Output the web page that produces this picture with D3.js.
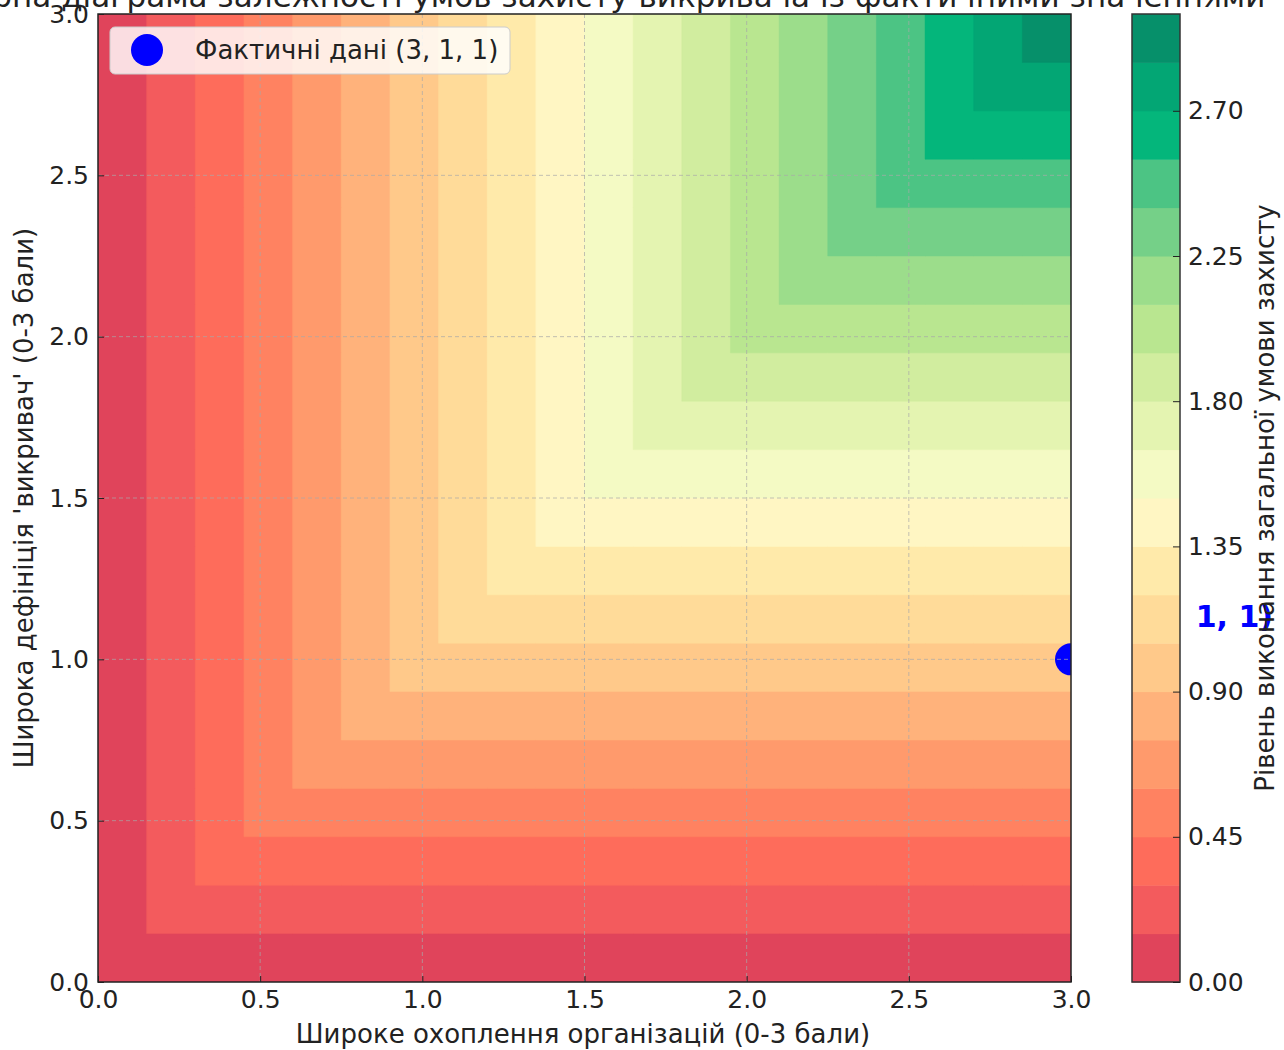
<!DOCTYPE html>
<html><head><meta charset="utf-8">
<script src="https://cdn.jsdelivr.net/npm/d3@7"></script>
<style>
body{margin:0;background:#fff}
text{font-family:"DejaVu Sans",sans-serif}
</style></head>
<body><svg id="chart" width="1284" height="1050"></svg>
<script>
// ---- data ----
const gridValues = [0, 0.15, 0.3, 0.45, 0.6, 0.75, 0.9, 1.05, 1.2, 1.35, 1.5, 1.65, 1.8, 1.95, 2.1, 2.25, 2.4, 2.55, 2.7, 2.85, 3.0];
const levels     = [0, 0.15, 0.3, 0.45, 0.6, 0.75, 0.9, 1.05, 1.2, 1.35, 1.5, 1.65, 1.8, 1.95, 2.1, 2.25, 2.4, 2.55, 2.7, 2.85, 3.0];
const axisTicks  = [0, 0.5, 1.0, 1.5, 2.0, 2.5, 3.0];
const cbarTicks  = [0, 0.45, 0.9, 1.35, 1.8, 2.25, 2.7];
const actualX = 3, actualY = 1, actualZ = 1;
// overall protection level = the weaker of the two conditions
const overall = (a, b) => Math.min(a, b);

const palette = ["#e0445b","#f35b5d","#fe6c5b","#ff8261","#ff9a6c","#ffb27b","#ffc98a","#ffdb99","#ffeaaa","#fff6c3",
                 "#f4fac4","#e4f4b1","#d1ed9f","#b9e690","#9cdd8b","#75d088","#4cc484","#04b67b","#03a674","#06906a"];

const titleText = "Контурна діаграма залежності умов захисту викривача із фактичними значеннями";
const xLabel = "Широке охоплення організацій (0-3 бали)";
const yLabel = "Широка дефініція 'викривач' (0-3 бали)";
const cLabel = "Рівень виконання загальної умови захисту";
const legendLabel = `Фактичні дані (${actualX}, ${actualY}, ${actualZ})`;

// ---- layout ----
const svg = d3.select("#chart");
const L = 98, R = 1071, T = 14, B = 982;
const x = d3.scaleLinear().domain([0, 3]).range([L, R]);
const y = d3.scaleLinear().domain([0, 3]).range([B, T]);

const defs = svg.append("defs");
defs.append("clipPath").attr("id","plotclip")
  .append("rect").attr("x",L).attr("y",T).attr("width",R-L).attr("height",B-T);
defs.append("clipPath").attr("id","annclip")
  .append("rect").attr("x",1187).attr("y",0).attr("width",120).attr("height",1050);

// ---- contour field ----
const n = gridValues.length;
const values = [];
for (let j = 0; j < n; j++) for (let i = 0; i < n; i++) values.push(overall(gridValues[i], gridValues[j]));
const contours = d3.contours().size([n, n]).thresholds(levels.slice(0, -1))(values);
const gx = d3.scaleLinear().domain([0.5, n - 0.5]).range([x(gridValues[0]), x(gridValues[n-1])]);
const gy = d3.scaleLinear().domain([0.5, n - 0.5]).range([y(gridValues[0]), y(gridValues[n-1])]);
const path = d3.geoPath(d3.geoTransform({point(px, py){ this.stream.point(gx(px), gy(py)); }}));

const plot = svg.append("g").attr("clip-path","url(#plotclip)");
plot.selectAll("path.band").data(contours).join("path")
  .attr("class","band").attr("d", path)
  .attr("fill", (d, i) => palette[i]).attr("stroke", (d, i) => palette[i]).attr("stroke-width", 0.5);

// grid
const grid = svg.append("g").attr("stroke","#a8a8a8").attr("stroke-opacity",0.7)
  .attr("stroke-dasharray","4,3").attr("stroke-width",1);
axisTicks.slice(1,-1).forEach(t => {
  grid.append("line").attr("x1",x(t)).attr("x2",x(t)).attr("y1",T).attr("y2",B);
  grid.append("line").attr("x1",L).attr("x2",R).attr("y1",y(t)).attr("y2",y(t));
});

// actual point
plot.append("circle").attr("cx", x(actualX)).attr("cy", y(actualY)).attr("r", 16).attr("fill","#0000ff");

// axes
const fmt1 = d3.format(".1f");
const xAxis = svg.append("g").attr("transform",`translate(0,${B})`)
  .call(d3.axisBottom(x).tickValues(axisTicks).tickFormat(fmt1).tickSizeInner(-6).tickSizeOuter(0).tickPadding(8));
const yAxis = svg.append("g").attr("transform",`translate(${L},0)`)
  .call(d3.axisLeft(y).tickValues(axisTicks).tickFormat(fmt1).tickSizeInner(-6).tickSizeOuter(0).tickPadding(9));
[xAxis, yAxis].forEach(a => {
  a.select(".domain").remove();
  a.selectAll("text").attr("font-size", 25).attr("fill","#222").attr("font-family","DejaVu Sans");
  a.selectAll("line").attr("stroke","#222");
});
svg.append("rect").attr("x",L).attr("y",T).attr("width",R-L).attr("height",B-T)
  .attr("fill","none").attr("stroke","#222").attr("stroke-width",1.5);

// axis labels
svg.append("text").attr("x", 583).attr("y", 1043).attr("text-anchor","middle")
  .attr("font-size",26).attr("fill","#222").text(xLabel);
svg.append("text").attr("transform",`translate(33,${(T+B)/2}) rotate(-90)`).attr("text-anchor","middle")
  .attr("font-size",26).attr("fill","#222").text(yLabel);

// title (partly out of view, as in reference)
svg.append("text").attr("x", 580).attr("y", 7).attr("text-anchor","middle")
  .attr("font-size",31).attr("fill","#222").text(titleText);

// legend
const lg = svg.append("g");
lg.append("rect").attr("x",110).attr("y",27).attr("width",400).attr("height",47).attr("rx",5)
  .attr("fill","#fff").attr("fill-opacity",0.82).attr("stroke","#cccccc");
lg.append("circle").attr("cx",147).attr("cy",50).attr("r",16).attr("fill","#0000ff");
lg.append("text").attr("x",195).attr("y",50).attr("dy","0.35em").attr("font-size",26).attr("fill","#222").text(legendLabel);

// annotation (left part hidden behind the colorbar, as in reference)
svg.append("text").attr("x",1273).attr("y",y(1.1)).attr("text-anchor","end")
  .attr("clip-path","url(#annclip)")
  .attr("font-size",30).attr("font-weight","bold").attr("fill","#0000ff")
  .text(`(${actualX}, ${actualY}, ${actualZ})`);

// colorbar
const CL = 1132, CR = 1180;
const cy = d3.scaleLinear().domain([levels[0], levels[levels.length-1]]).range([B, T]);
const cb = svg.append("g");
cb.selectAll("rect").data(d3.pairs(levels)).join("rect")
  .attr("x", CL).attr("width", CR-CL)
  .attr("y", d => cy(d[1])).attr("height", d => cy(d[0]) - cy(d[1]) + 0.5)
  .attr("fill", (d,i) => palette[i]);
cb.append("rect").attr("x",CL).attr("y",T).attr("width",CR-CL).attr("height",B-T)
  .attr("fill","none").attr("stroke","#333").attr("stroke-width",1.5);
const cAxis = svg.append("g").attr("transform",`translate(${CR},0)`)
  .call(d3.axisRight(cy).tickValues(cbarTicks).tickFormat(d3.format(".2f")).tickSizeInner(-7).tickSizeOuter(0).tickPadding(8));
cAxis.select(".domain").remove();
cAxis.selectAll("text").attr("font-size",25).attr("fill","#222").attr("font-family","DejaVu Sans");
cAxis.selectAll("line").attr("stroke","#222");
svg.append("text").attr("transform",`translate(1274,${(T+B)/2}) rotate(-90)`).attr("text-anchor","middle")
  .attr("font-size",26).attr("fill","#222").text(cLabel);
</script>
</body></html>
